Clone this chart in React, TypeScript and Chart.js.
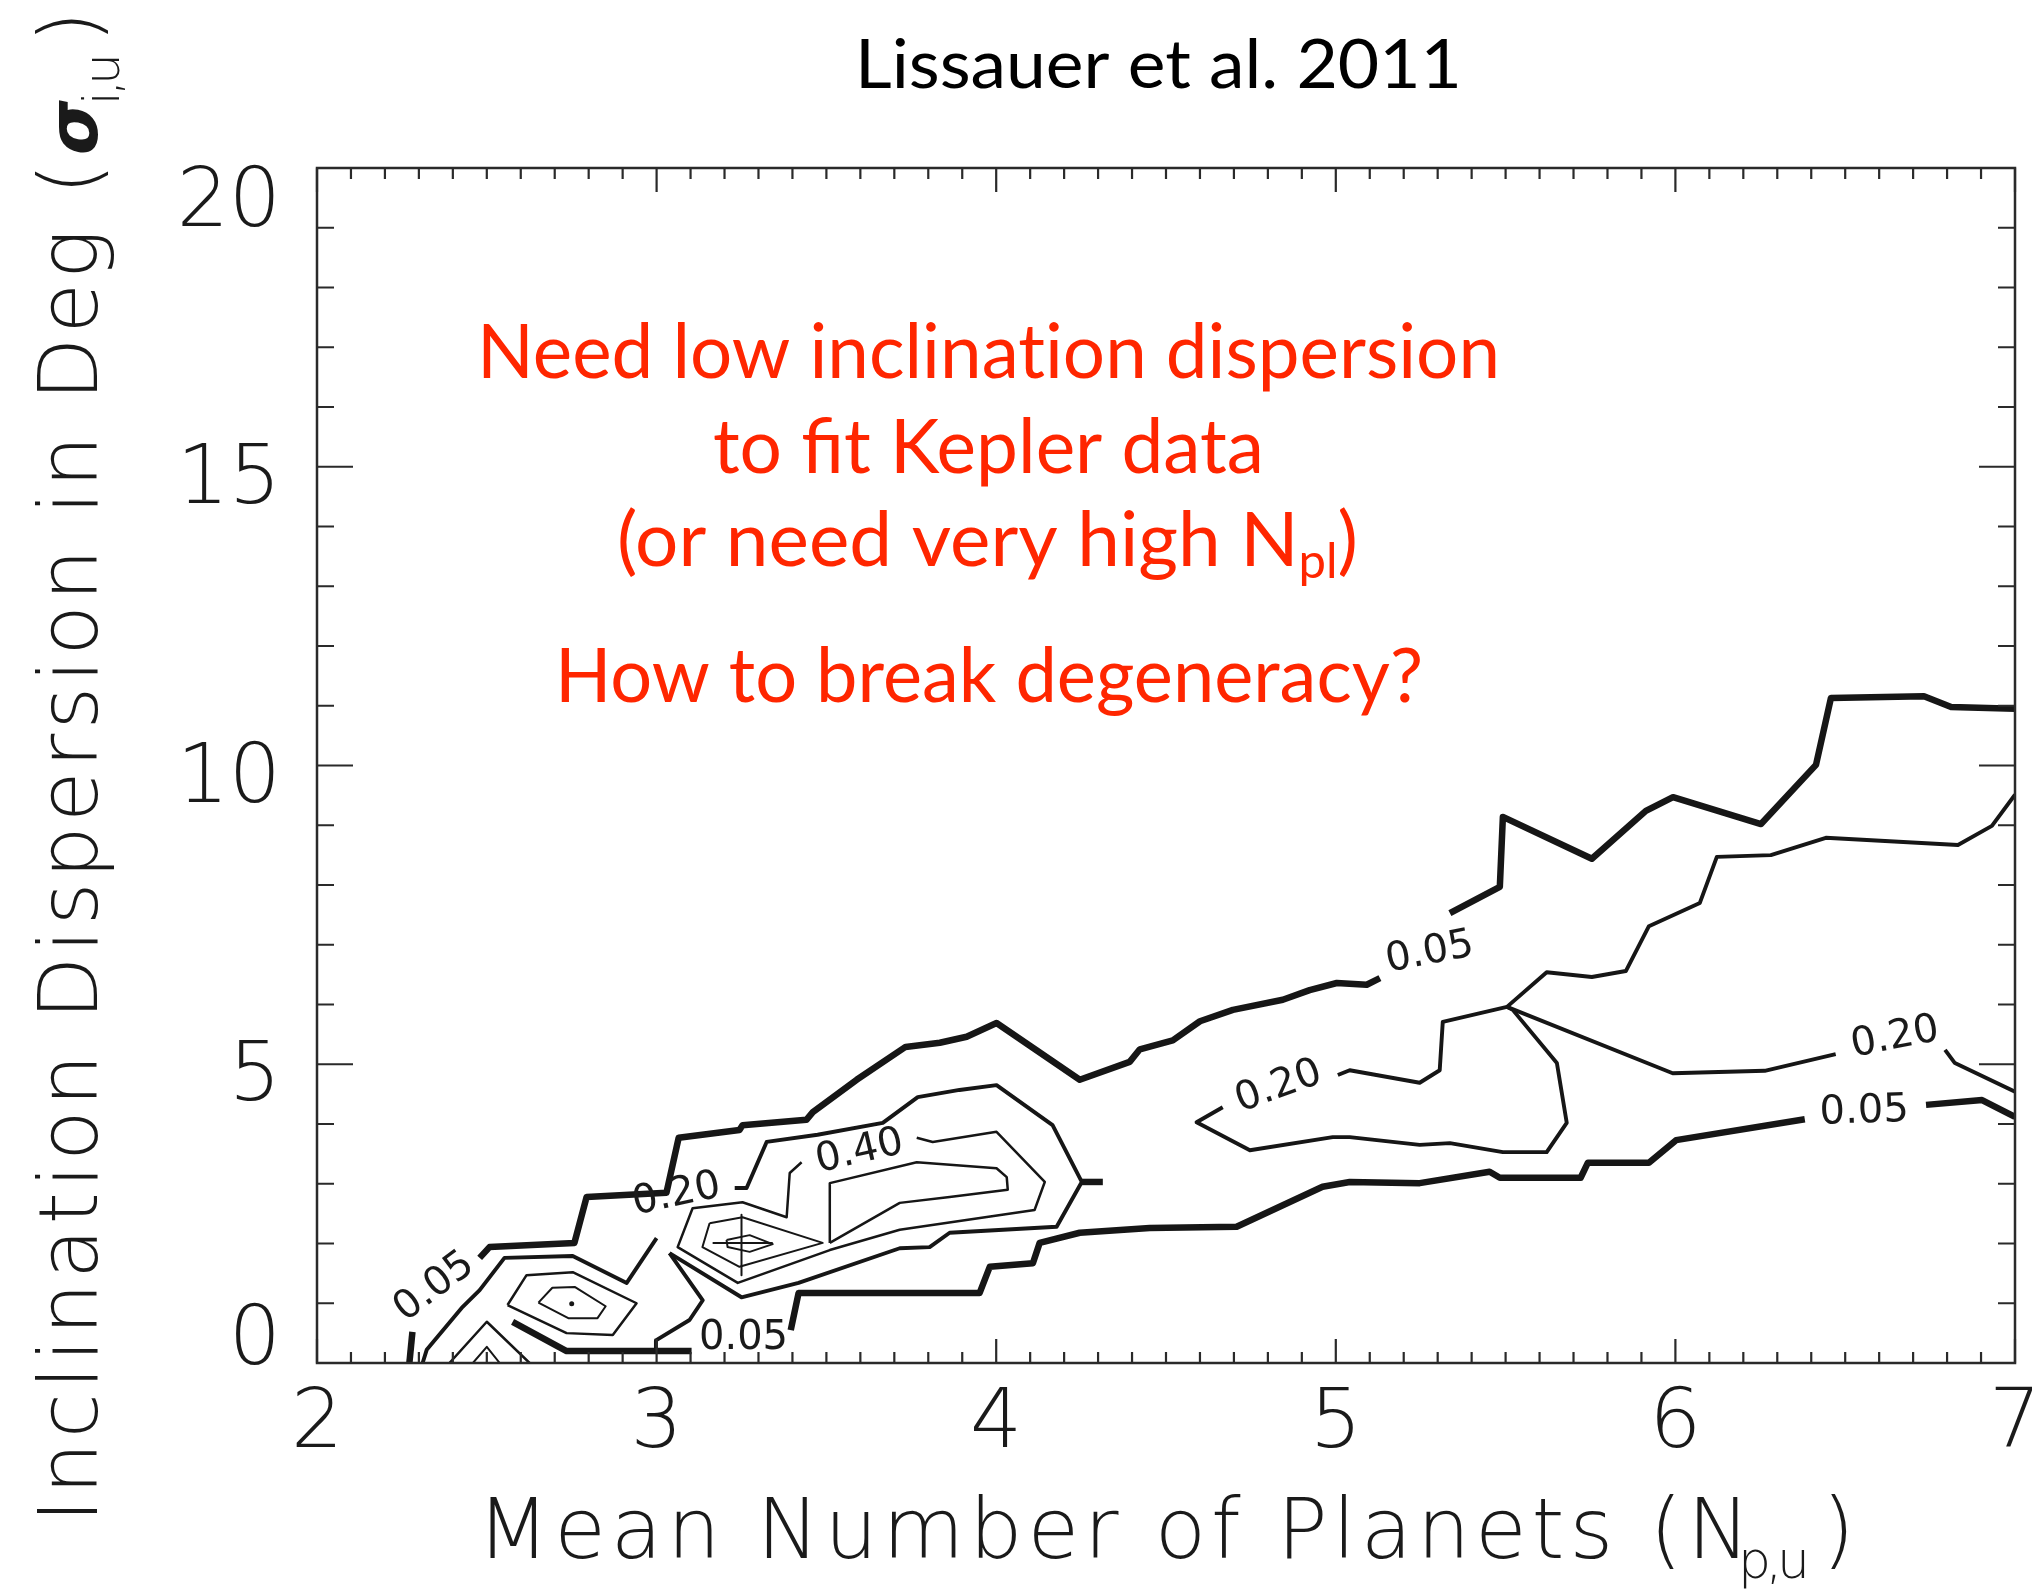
import React, { useEffect, useRef } from "react";
import { Chart, registerables } from "chart.js";

Chart.register(...registerables);

type Pt = [number, number];

// ---------- axes ----------
const X_MIN = 2;
const X_MAX = 7;
const Y_MIN = 0;
const Y_MAX = 20;
const xTickValues = [2, 3, 4, 5, 6, 7];
const xTickLabels = ["2", "3", "4", "5", "6", "7"];
const yTickValues = [0, 5, 10, 15, 20];
const yTickLabels = ["0", "5", "10", "15", "20"];

// ---------- contour 0.05 (thick) ----------
const c05LeftStub: Pt[] = [[2.272, 0], [2.281, 0.52]];
const c05Upper: Pt[] = [
  [2.479, 1.76], [2.508, 1.94], [2.758, 2.01], [2.794, 2.78], [3.029, 2.85], [3.065, 3.77],
  [3.244, 3.9], [3.253, 3.98], [3.441, 4.07], [3.46, 4.2], [3.589, 4.74], [3.733, 5.29],
  [3.834, 5.36], [3.913, 5.46], [4.001, 5.69], [4.246, 4.74], [4.393, 5.04], [4.423, 5.25],
  [4.52, 5.4], [4.6, 5.72], [4.697, 5.91], [4.844, 6.08], [4.923, 6.24], [5.003, 6.36],
  [5.091, 6.33], [5.13, 6.44],
];
const c05UpperRight: Pt[] = [
  [5.336, 7.53], [5.483, 7.97], [5.492, 9.14], [5.754, 8.44], [5.913, 9.24], [5.993, 9.47],
  [6.252, 9.02], [6.414, 10.01], [6.458, 11.13], [6.732, 11.16], [6.812, 10.98], [7.0, 10.95],
];
const c05LowerEdge: Pt[] = [[7.0, 4.12], [6.903, 4.4], [6.738, 4.32]];
const c05Lower: Pt[] = [
  [6.381, 4.08], [6.002, 3.73], [5.922, 3.35], [5.742, 3.35], [5.721, 3.1], [5.483, 3.1],
  [5.453, 3.2], [5.247, 3.01], [5.041, 3.03], [4.961, 2.95], [4.708, 2.28], [4.452, 2.26],
  [4.246, 2.18], [4.128, 2.01], [4.108, 1.67], [3.981, 1.61], [3.951, 1.17], [3.418, 1.17],
  [3.395, 0.55],
];
const c05LowerLeft: Pt[] = [[3.103, 0.2], [2.735, 0.2], [2.576, 0.69]];
const c05Nub: Pt[] = [[4.252, 3.03], [4.314, 3.03]];

// ---------- contour 0.20 (medium) ----------
const c20Left: Pt[] = [
  [2.311, 0], [2.323, 0.22], [2.429, 0.94], [2.479, 1.22], [2.552, 1.76], [2.753, 1.79],
  [2.912, 1.34], [3.0, 2.09],
];
const c20Mid: Pt[] = [
  [3.23, 2.93], [3.265, 2.93], [3.324, 3.7], [3.474, 3.82], [3.666, 4.02], [3.769, 4.45],
  [3.892, 4.57], [4.001, 4.65], [4.166, 3.98], [4.252, 3.03], [4.178, 2.28], [3.863, 2.18],
  [3.804, 1.94], [3.716, 1.92], [3.418, 1.34], [3.25, 1.1], [3.038, 1.84],
];
const c20Saddle: Pt[] = [[3.038, 1.84], [3.136, 1.05], [3.097, 0.72], [2.998, 0.38], [2.998, 0.2]];
const c20Right: Pt[] = [
  [4.667, 4.28], [4.59, 4.03], [4.747, 3.56], [4.991, 3.78], [5.041, 3.78], [5.247, 3.65],
  [5.336, 3.68], [5.492, 3.53], [5.621, 3.53], [5.68, 4.02], [5.651, 5.02], [5.521, 5.91],
  [5.504, 5.96], [5.315, 5.71], [5.306, 4.9], [5.247, 4.69], [5.041, 4.9], [5.006, 4.82],
];
const c20Upper: Pt[] = [
  [5.504, 5.96], [5.621, 6.54], [5.754, 6.46], [5.854, 6.56], [5.922, 7.31], [6.072, 7.7],
  [6.122, 8.47], [6.281, 8.5], [6.443, 8.79], [6.832, 8.67], [6.932, 8.99], [7.0, 9.51],
];
const c20Branch: Pt[] = [[5.504, 5.96], [5.992, 4.85], [6.263, 4.89], [6.472, 5.17]];
const c20BranchEnd: Pt[] = [[6.794, 5.24], [6.823, 5.02], [7.0, 4.54]];

// ---------- contour 0.40 and inner levels (thin) ----------
const c40Loop: Pt[] = [
  [3.766, 3.77], [3.813, 3.7], [4.001, 3.87], [4.143, 3.03], [4.113, 2.56], [3.716, 2.23],
  [3.51, 1.89], [3.239, 1.34], [3.062, 1.94], [3.106, 2.59], [3.253, 2.69], [3.383, 2.44],
  [3.392, 3.18], [3.427, 3.36],
];
const innerBand: Pt[] = [
  [3.51, 2.01], [3.51, 3.01], [3.766, 3.36], [4.001, 3.26], [4.031, 3.11], [4.034, 2.9],
  [3.863, 2.78], [3.716, 2.68], [3.51, 2.01],
];
const peak2Kite: Pt[] = [[3.156, 2.34], [3.253, 2.44], [3.489, 2.01], [3.244, 1.61], [3.135, 1.94], [3.156, 2.34]];
const peak2Diamond: Pt[] = [[3.206, 2.06], [3.274, 2.14], [3.342, 1.99], [3.274, 1.86], [3.209, 1.94], [3.206, 2.06]];
const peak2CrossV: Pt[] = [[3.25, 2.48], [3.25, 1.47]];
const peak2CrossH: Pt[] = [[3.165, 2.01], [3.342, 2.01]];
const peak1Ring1: Pt[] = [[2.561, 0.97], [2.617, 1.47], [2.753, 1.52], [2.941, 1.0], [2.871, 0.47], [2.735, 0.5], [2.561, 0.97]];
const peak1Ring2: Pt[] = [[2.652, 1.01], [2.693, 1.26], [2.76, 1.27], [2.85, 0.95], [2.826, 0.75], [2.74, 0.75], [2.652, 1.01]];
const peak1Dot: Pt[] = [[2.75, 0.99]];
const edgePeakOuter: Pt[] = [[2.39, 0], [2.5, 0.69], [2.626, 0]];
const edgePeakInner: Pt[] = [[2.459, 0], [2.5, 0.27], [2.538, 0]];

// ---------- contour labels ----------
const contourLabelText = ["0.05", "0.20", "0.40", "0.05", "0.05", "0.20", "0.20", "0.05"];
const contourLabelX = [2.346, 3.059, 3.598, 3.256, 5.277, 4.832, 6.647, 6.556];
const contourLabelY = [1.27, 2.81, 3.53, 0.4, 6.86, 4.62, 5.44, 4.2];
const contourLabelAngle = [-37, -12, -13, 0, -11, -20, -11, -2];

// ---------- texts ----------
const titleText = "Lissauer et al. 2011";
// \u200c keeps Lato from joining "ti" into a ligature
const noteLines = ["Need low inclinat\u200cion dispersion", "to fit Kepler data", "How to break degeneracy?"];
const noteParenMain = "(or need very high N";
const noteParenSub = "pl";

const W_THICK = 6.5;
const W_MED = 3.9;
const W_THIN = 2.5;
const W_FINE = 2.0;

const strokes: { pts: Pt[]; w: number }[] = [
  { pts: c05LeftStub, w: W_THICK },
  { pts: c05Upper, w: W_THICK },
  { pts: c05UpperRight, w: W_THICK },
  { pts: c05LowerEdge, w: W_THICK },
  { pts: c05Lower, w: W_THICK },
  { pts: c05LowerLeft, w: W_THICK },
  { pts: c05Nub, w: W_THICK },
  { pts: c20Left, w: W_MED },
  { pts: c20Mid, w: W_MED },
  { pts: c20Saddle, w: W_MED },
  { pts: c20Right, w: W_MED },
  { pts: c20Upper, w: W_MED },
  { pts: c20Branch, w: W_MED },
  { pts: c20BranchEnd, w: W_MED },
  { pts: c40Loop, w: W_THIN },
  { pts: innerBand, w: W_THIN },
  { pts: peak2Kite, w: W_FINE },
  { pts: peak2Diamond, w: W_FINE },
  { pts: peak2CrossV, w: W_FINE },
  { pts: peak2CrossH, w: W_FINE },
  { pts: peak1Ring1, w: W_THIN },
  { pts: peak1Ring2, w: W_FINE },
  { pts: edgePeakOuter, w: W_THIN },
  { pts: edgePeakInner, w: W_FINE },
];

const THIN_FONT = '"DejaVu Sans"';
const RED = "#ff2600";

type Run = { t: string; font: string; dy: number };

function drawSpaced(ctx: CanvasRenderingContext2D, runs: Run[], x0: number, x1: number, y: number) {
  let total = 0;
  let n = 0;
  for (const r of runs) {
    ctx.font = r.font;
    for (const ch of r.t) {
      total += ctx.measureText(ch).width;
      n++;
    }
  }
  const gap = n > 1 ? (x1 - x0 - total) / (n - 1) : 0;
  let x = x0;
  for (const r of runs) {
    ctx.font = r.font;
    for (const ch of r.t) {
      ctx.fillText(ch, x, y + r.dy);
      x += ctx.measureText(ch).width + gap;
    }
  }
}

function drawFitted(ctx: CanvasRenderingContext2D, runs: Run[], x0: number, x1: number, y: number) {
  let total = 0;
  for (const r of runs) {
    ctx.font = r.font;
    total += ctx.measureText(r.t).width;
  }
  const sx = (x1 - x0) / total;
  ctx.save();
  ctx.translate(x0, y);
  ctx.scale(sx, 1);
  let x = 0;
  for (const r of runs) {
    ctx.font = r.font;
    ctx.fillText(r.t, x, r.dy);
    x += ctx.measureText(r.t).width;
  }
  ctx.restore();
}

const decorPlugin = {
  id: "decor",
  afterDatasetsDraw(chart: any) {
    const ctx: CanvasRenderingContext2D = chart.ctx;
    const a = chart.chartArea;
    const xs = chart.scales.x;
    const ys = chart.scales.y;
    ctx.save();

    // frame
    ctx.strokeStyle = "#2a2a2a";
    ctx.lineWidth = 2.5;
    ctx.strokeRect(a.left, a.top, a.right - a.left, a.bottom - a.top);

    // ticks (inward on all four sides)
    ctx.lineWidth = 2.2;
    ctx.beginPath();
    for (let i = 0; i <= (X_MAX - X_MIN) * 10; i++) {
      const v = X_MIN + i * 0.1;
      const px = xs.getPixelForValue(v);
      const len = i % 10 === 0 ? 24 : 11;
      ctx.moveTo(px, a.bottom);
      ctx.lineTo(px, a.bottom - len);
      ctx.moveTo(px, a.top);
      ctx.lineTo(px, a.top + len);
    }
    for (let j = 0; j <= Y_MAX - Y_MIN; j++) {
      const v = Y_MIN + j;
      const py = ys.getPixelForValue(v);
      const len = j % 5 === 0 ? 36 : 17;
      ctx.moveTo(a.left, py);
      ctx.lineTo(a.left + len, py);
      ctx.moveTo(a.right, py);
      ctx.lineTo(a.right - len, py);
    }
    ctx.stroke();

    // tick labels
    ctx.fillStyle = "#1a1a1a";
    ctx.font = `200 82px ${THIN_FONT}`;
    ctx.textAlign = "right";
    ctx.textBaseline = "alphabetic";
    yTickValues.forEach((v, i) => {
      const py = ys.getPixelForValue(v);
      const c = Math.min(Math.max(py + 6, a.top + 28), a.bottom - 29);
      ctx.fillText(yTickLabels[i], a.left - 36, c + 30);
    });
    ctx.textAlign = "center";
    xTickValues.forEach((v, i) => {
      const px = xs.getPixelForValue(v);
      ctx.fillText(xTickLabels[i], px, a.bottom + 84);
    });

    // contour labels
    ctx.font = `400 40px ${THIN_FONT}`;
    ctx.textAlign = "center";
    ctx.textBaseline = "middle";
    contourLabelText.forEach((t, i) => {
      const px = xs.getPixelForValue(contourLabelX[i]);
      const py = ys.getPixelForValue(contourLabelY[i]);
      ctx.save();
      ctx.translate(px, py);
      ctx.rotate((contourLabelAngle[i] * Math.PI) / 180);
      ctx.fillText(t, 0, 0);
      ctx.restore();
    });

    ctx.textAlign = "left";
    ctx.textBaseline = "alphabetic";

    // x axis title
    ctx.fillStyle = "#1a1a1a";
    const big = `200 84px ${THIN_FONT}`;
    const sub = `200 52px ${THIN_FONT}`;
    drawSpaced(ctx, [{ t: "Mean Number of Planets (N", font: big, dy: 0 }], 477, 1750, 1558);
    drawSpaced(ctx, [{ t: "p,u", font: sub, dy: 0 }], 1738, 1810, 1578);
    ctx.font = big;
    ctx.fillText(")", 1822, 1558);

    // y axis title (rotated)
    ctx.save();
    ctx.translate(97, 1523);
    ctx.rotate(-Math.PI / 2);
    drawSpaced(ctx, [{ t: "Inclination Dispersion in Deg (", font: `200 82px ${THIN_FONT}`, dy: 0 }], 0, 1360, 0);
    ctx.font = `italic 700 70px ${THIN_FONT}`;
    ctx.fillText("\u03c3", 1368, 0);
    drawSpaced(ctx, [{ t: "i,u", font: `200 50px ${THIN_FONT}`, dy: 0 }], 1418, 1470, 22);
    ctx.font = `200 82px ${THIN_FONT}`;
    ctx.fillText(")", 1480, 0);
    ctx.restore();

    // title
    ctx.fillStyle = "#000";
    drawFitted(ctx, [{ t: titleText, font: "68px Lato", dy: 0 }], 855, 1462, 88);

    // red annotation
    ctx.fillStyle = RED;
    const redFont = "75px Lato";
    drawFitted(ctx, [{ t: noteLines[0], font: redFont, dy: 0 }], 477, 1500, 378);
    drawFitted(ctx, [{ t: noteLines[1], font: redFont, dy: 0 }], 713, 1264, 473);
    drawFitted(
      ctx,
      [
        { t: noteParenMain, font: redFont, dy: 0 },
        { t: noteParenSub, font: "48px Lato", dy: 12 },
        { t: ")", font: redFont, dy: 0 },
      ],
      617,
      1358,
      566
    );
    drawFitted(ctx, [{ t: noteLines[2], font: redFont, dy: 0 }], 555, 1423, 702);

    ctx.restore();
  },
};

export default function App() {
  const ref = useRef<HTMLCanvasElement | null>(null);
  useEffect(() => {
    if (!ref.current) return;
    const datasets: any[] = strokes.map((s) => ({
      data: s.pts.map(([x, y]) => ({ x, y })),
      borderColor: "#161616",
      borderWidth: s.w,
      pointRadius: 0,
      fill: false,
      tension: 0,
      showLine: true,
      borderJoinStyle: "round",
      borderCapStyle: "butt",
    }));
    datasets.push({
      data: peak1Dot.map(([x, y]) => ({ x, y })),
      showLine: false,
      pointRadius: 2.5,
      pointBackgroundColor: "#161616",
      pointBorderWidth: 0,
    });
    const chart = new Chart(ref.current, {
      type: "line",
      data: { datasets },
      options: {
        responsive: false,
        animation: false,
        devicePixelRatio: 1,
        layout: { padding: { left: 317, right: 17, top: 168, bottom: 227 } },
        scales: {
          x: { type: "linear", min: X_MIN, max: X_MAX, display: false },
          y: { type: "linear", min: Y_MIN, max: Y_MAX, display: false },
        },
        plugins: { legend: { display: false }, tooltip: { enabled: false } },
        events: [],
      },
      plugins: [decorPlugin],
    });
    return () => chart.destroy();
  }, []);
  return (
    <div style={{ position: "absolute", left: 0, top: 0, width: 2032, height: 1590, background: "#fff", overflow: "hidden" }}>
      <canvas ref={ref} width={2032} height={1590} style={{ display: "block" }} />
    </div>
  );
}
